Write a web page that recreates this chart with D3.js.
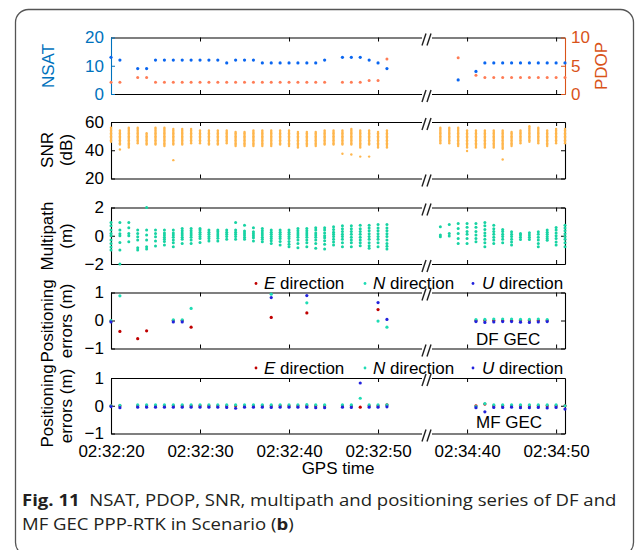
<!DOCTYPE html>
<html>
<head>
<meta charset="utf-8">
<script src="https://cdn.jsdelivr.net/npm/d3@7"></script>
<style>
  body { margin: 0; background: #fff; }
  svg text { font-family: 'Liberation Sans', Arial, sans-serif; }
  .tick text { font-size: 17px; fill: #000; }
  .cap { font-family: 'Open Sans', 'Noto Sans', sans-serif; fill: #231f20; }
</style>
</head>
<body>
<div class="chart"></div>
<script>
// time in seconds after 02:32:00
const xTicks = [20, 30, 40, 50, 160, 170];

const nsatTime = [20, 21, 23, 24, 25, 26, 27, 28, 29, 30, 31, 32, 33, 34, 35, 36, 37, 38, 39, 40, 41, 42, 43, 44, 46, 47, 48, 49, 50, 51,
  159, 161, 162, 163, 164, 165, 166, 167, 168, 169, 170, 171];
const nsat = [13, 12, 9, 9, 12, 12, 12, 12, 12, 12, 12, 12, 11, 12, 12, 12, 11, 11, 11, 11, 11, 11, 11, 12, 13, 13, 13, 12, 11, 9,
  5, 8, 11, 11, 11, 11, 11, 11, 11, 11, 11, 11];
const pdop = [2.1, 2.1, 2.9, 2.9, 2.1, 2.1, 2.1, 2.1, 2.1, 2.1, 2.1, 2.1, 2.1, 2.1, 2.1, 2.1, 2.1, 2.1, 2.1, 2.1, 2.1, 2.1, 2.1, 2.1, 2.1, 2.1, 2.1, 2.4, 2.4, 6.2,
  6.4, 3.3, 2.9, 2.9, 2.9, 2.9, 2.9, 2.9, 2.9, 2.9, 2.9, 2.9];

const snrTime = [20, 21, 22, 23, 24, 25, 26, 27, 28, 29, 30, 31, 32, 33, 34, 35, 36, 37, 38, 39, 40, 41, 42, 43, 44, 45, 46, 47, 48, 49, 50, 51,
  157, 158, 159, 160, 161, 162, 163, 164, 165, 166, 167, 168, 169, 170, 171];
const snr = [
  [56, 55, 54, 53, 52, 51, 50, 49, 48, 47, 46],
  [54, 53, 52, 51, 50, 49, 48, 47, 46, 45, 44, 40.5],
  [56, 55, 54, 53, 52, 51, 50, 49, 48, 47, 46, 45, 44, 43, 42],
  [56, 55, 54, 53, 52, 51, 50, 49, 48, 47, 46, 45],
  [52, 51, 50, 49, 48, 47, 46, 45, 44],
  [56, 55, 54, 53, 52, 51, 50, 49, 48, 47, 46, 45, 44],
  [56, 55, 54, 53, 52, 51, 50, 49, 48, 47, 46, 45, 44, 43],
  [55, 54, 53, 52, 51, 50, 49, 48, 47, 46, 45, 44, 33],
  [55, 54, 53, 52, 51, 50, 49, 48, 47, 46, 45, 44],
  [55, 54, 53, 52, 51, 50, 49, 48, 47, 46, 45],
  [54, 53, 52, 51, 50, 49, 48, 47, 46, 45],
  [54, 53, 52, 51, 50, 49, 48, 47, 46, 45, 44],
  [54, 53, 52, 51, 50, 49, 48, 47, 46, 45, 44],
  [54, 53, 52, 51, 50, 49, 48, 47, 46, 45],
  [53, 52, 51, 50, 49, 48, 47, 46, 45, 44, 43],
  [53, 52, 51, 50, 49, 48, 47, 46, 45, 44, 43],
  [54, 53, 52, 51, 50, 49, 48, 47, 46, 45, 44, 43],
  [54, 53, 52, 51, 50, 49, 48, 47, 46, 45, 44, 43],
  [54, 53, 52, 51, 50, 49, 48, 47, 46, 45, 44, 43],
  [54, 53, 52, 51, 50, 49, 48, 47, 46, 45, 44],
  [54, 53, 52, 51, 50, 49, 48, 47, 46, 45, 44, 43],
  [53, 52, 51, 50, 49, 48, 47, 46, 45, 44, 43, 42],
  [53, 52, 51, 50, 49, 48, 47, 46, 45, 44, 43],
  [53, 52, 51, 50, 49, 48, 47, 46, 45, 44, 43],
  [54, 53, 52, 51, 50, 49, 48, 47, 46, 45, 44],
  [54, 53, 52, 51, 50, 49, 48, 47, 46, 45, 44],
  [54, 53, 52, 51, 50, 49, 48, 47, 46, 45, 44, 37.5],
  [55, 54, 53, 52, 51, 50, 49, 48, 47, 46, 45, 44, 37],
  [54, 53, 52, 51, 50, 49, 48, 47, 46, 45, 44, 43, 42, 35.5],
  [54, 53, 52, 51, 50, 49, 48, 47, 46, 45, 44, 35.5],
  [53, 52, 51, 50, 49, 48, 47, 46, 45, 44, 43, 42],
  [54, 53, 52, 51, 50, 49, 48, 47, 46, 45, 44, 43, 42],
  [56, 55, 54, 53, 52, 51, 50, 49, 48, 47, 46, 45],
  [56, 55, 54, 53, 52, 51, 50, 49, 48, 47, 46, 45],
  [56, 55, 54, 53, 52, 51, 50, 49, 48, 47, 46, 45, 44, 43],
  [54, 53, 52, 51, 50, 49, 48, 47, 46, 45, 44, 43, 42, 39.5],
  [54, 53, 52, 51, 50, 49, 48, 47, 46, 45, 44, 43, 42],
  [54, 53, 52, 51, 50, 49, 48, 47, 46, 45, 44, 43, 42],
  [54, 53, 52, 51, 50, 49, 48, 47, 46, 45, 44, 43, 42],
  [54, 53, 52, 51, 50, 49, 48, 47, 46, 45, 44, 43, 42, 41, 33.5],
  [53, 52, 51, 50, 49, 48, 47, 46, 45, 44, 43],
  [54, 53, 52, 51, 50, 49, 48, 47, 46, 45],
  [57, 56, 55, 54, 53, 52, 51, 50, 49, 48, 47, 46],
  [56, 55, 54, 53, 52, 51, 50, 49, 48, 47, 46, 45],
  [54, 53, 52, 51, 50, 49, 48, 47, 46, 45, 44, 43],
  [55, 54, 53, 52, 51, 50, 49, 48, 47, 46, 45],
  [55, 54, 53, 52, 51, 50, 49, 48, 47, 46, 45]
];

const mpTime = snrTime;
const multipath = [
  [0.94, 0.7, 0.4, 0.16, 0, -0.3, -0.54, -0.8, -1.0],
  [0.94, 0.4, 0.15, 0, -0.47, -1.0, -2.0],
  [0.94, 0.56, 0.16, 0, -0.42],
  [0.4, 0.16, -0.07, -0.3, -0.85, -1.0],
  [2.0, 0.4, 0.05, -0.3, -0.78, -0.94],
  [0.4, 0.16, -0.07, -0.38, -0.73],
  [0.4, 0.2, 0.05, -0.1, -0.25, -0.4, -0.66],
  [0.4, 0.2, 0.05, -0.1, -0.3, -0.5, -0.78],
  [0.52, 0.35, 0.2, 0.05, -0.1, -0.25, -0.54],
  [0.52, 0.35, 0.2, 0.05, -0.1, -0.3, -0.54],
  [0.52, 0.4, 0.25, 0.1, -0.05, -0.2, -0.47],
  [0.4, 0.25, 0.1, -0.05, -0.2, -0.38],
  [0.4, 0.28, 0.12, -0.02, -0.18, -0.38],
  [0.4, 0.25, 0.1, -0.05, -0.24],
  [0.94, 0.4, 0.25, 0.1, -0.05, -0.24],
  [0.75, 0.33, 0.2, 0.05, -0.1, -0.24],
  [0.56, 0.28, 0.15, 0, -0.15, -0.38],
  [0.52, 0.35, 0.2, 0.05, -0.1, -0.25, -0.42],
  [0.4, 0.25, 0.1, -0.05, -0.2, -0.35, -0.54],
  [0.4, 0.25, 0.1, -0.05, -0.2, -0.4, -0.66],
  [0.4, 0.25, 0.1, -0.05, -0.2, -0.4, -0.6, -0.78],
  [0.52, 0.35, 0.2, 0.05, -0.1, -0.3, -0.55, -0.85],
  [0.52, 0.35, 0.2, 0.05, -0.1, -0.3, -0.5, -0.78],
  [0.56, 0.4, 0.2, 0.05, -0.1, -0.3, -0.55, -0.89],
  [0.56, 0.4, 0.2, 0, -0.15, -0.35, -0.6, -0.94],
  [0.64, 0.45, 0.25, 0.1, -0.05, -0.25, -0.45, -0.66],
  [0.7, 0.5, 0.3, 0.1, -0.05, -0.25, -0.5, -0.78],
  [0.7, 0.5, 0.3, 0.1, -0.1, -0.3, -0.5, -0.78],
  [0.75, 0.5, 0.3, 0.1, -0.1, -0.3, -0.5, -0.7],
  [0.75, 0.55, 0.35, 0.15, -0.05, -0.25, -0.5, -0.7, -0.89],
  [0.8, 0.55, 0.35, 0.15, -0.05, -0.25, -0.5, -0.78],
  [0.8, 0.55, 0.35, 0.15, -0.05, -0.3, -0.55, -0.75, -0.94],
  [0.64, 0.05, -0.07],
  [0.8, 0.16, -0.02],
  [0.87, 0.52, 0.16, -0.19, -0.54],
  [0.87, 0.6, 0.3, 0.1, -0.2, -0.54],
  [0.87, 0.6, 0.3, 0.05, -0.2, -0.42],
  [0.94, 0.7, 0.45, 0.2, 0, -0.25, -0.5, -0.78],
  [0.75, 0.5, 0.3, 0.1, -0.1, -0.3, -0.54],
  [0.45, 0.3, 0.1, -0.05, -0.25, -0.49],
  [0.28, 0.1, -0.05, -0.25, -0.45, -0.66],
  [0.16, 0.05, -0.1, -0.26],
  [0.21, 0.05, -0.1, -0.26],
  [0.28, 0.1, -0.1, -0.3, -0.55, -0.78],
  [0.4, 0.25, 0.1, -0.05, -0.2, -0.31],
  [0.59, 0.4, 0.2, 0, -0.2, -0.45, -0.66],
  [0.75, 0.55, 0.35, 0.15, -0.05, -0.25, -0.5, -0.78]
];

// DF GEC positioning errors (m)
const dfTime = [20, 21, 23, 24, 27, 28, 29, 38, 42, 50, 51, 161, 162, 163, 164, 165, 166, 167, 168, 169];
const dfE = [-0.02, -0.39, -0.65, -0.37, 0, 0, -0.24, 0.11, 0.27, 0.39, null, 0, 0, 0, 0, 0, 0, 0, 0, 0];
const dfN = [0, 0.88, null, null, 0.02, 0.02, 0.43, 0.94, 0.63, -0.02, -0.24, 0.03, 0.04, 0.05, 0.05, 0.05, 0.04, 0.04, 0.05, 0.03];
const dfU = [-0.05, null, null, null, -0.05, -0.05, null, 0.82, 0.89, 0.64, 0.04, -0.04, -0.07, -0.05, -0.04, -0.04, -0.06, -0.07, -0.05, -0.04];

// MF GEC positioning errors (m)
const mfTime = [20, 21, 23, 24, 25, 26, 27, 28, 29, 30, 31, 32, 33, 34, 35, 36, 37, 38, 39, 40, 41, 42, 43, 44, 46, 47, 48, 49, 50, 51,
  161, 162, 163, 164, 165, 166, 167, 168, 169, 170, 171];
const mfE = [0, 0, 0, 0, 0, 0, 0, 0, 0, 0, 0, 0, 0, 0, 0, 0, 0, 0, 0, 0, 0, 0, 0, 0, 0, 0, -0.05, 0, 0, 0.03,
  0, 0.06, 0, 0, 0, 0, 0, 0, 0, 0, 0];
const mfN = [0, 0.01, 0.03, 0.03, 0.03, 0.03, 0.03, 0.03, 0.03, 0.03, 0.03, 0.03, 0.03, 0.03, 0.03, 0.03, 0.03, 0.03, 0.03, 0.03, 0.03, 0.04, 0.03, 0.03, 0.03, 0.03, 0.27, 0.03, 0.03, 0.03,
  -0.03, 0.08, 0.03, 0.03, 0.03, 0.03, 0.03, 0.03, 0.03, 0.03, 0];
const mfU = [-0.03, -0.07, -0.05, -0.05, -0.05, -0.05, -0.05, -0.05, -0.05, -0.05, -0.05, -0.05, -0.06, -0.09, -0.05, -0.05, -0.05, -0.06, -0.05, -0.05, -0.05, -0.05, -0.07, -0.07, -0.05, -0.06, 0.82, -0.05, -0.05, -0.04,
  -0.07, -0.22, -0.06, -0.06, -0.05, -0.07, -0.07, -0.06, -0.08, -0.06, -0.12];

const blueAxis = '#0072bd', orangeAxis = '#d95319';
const colNsat = '#0a66f0', colPdop = '#ff7c55', colSnr = '#ffb64d', colMp = '#17d3a3';
const colE = '#c00000', colN = '#1fdcb4', colU = '#2222dd';

const svg = d3.select('.chart').append('svg').attr('width', 635).attr('height', 550);

svg.append('rect').attr('x', 15.5).attr('y', 9.5).attr('width', 618).attr('height', 546)
  .attr('rx', 13).attr('fill', 'none').attr('stroke', '#555').attr('stroke-width', 1.3);

// broken time axis: 02:32:20-02:32:55.5 | 02:34:35.5-02:34:51
const x = d3.scaleLinear().domain([20, 55.5, 155.5, 171]).range([111, 427, 427, 565]);
const breakX = 427;
const intFmt = d3.format('d');

function fmtTime(s) {
  const m = 32 + Math.floor(s / 60);
  const sec = s % 60;
  return '02:' + String(m).padStart(2, '0') + ':' + String(sec).padStart(2, '0');
}

function panel(top, bottom, domain, ticks, opts) {
  opts = opts || {};
  const y = d3.scaleLinear().domain(domain).range([bottom, top]);
  const g = svg.append('g');

  g.append('g').attr('transform', `translate(0,${bottom})`)
    .call(d3.axisBottom(x).tickValues(xTicks).tickSizeInner(-4).tickSizeOuter(0).tickPadding(11)
      .tickFormat(opts.xLabels ? fmtTime : ''));
  g.append('g').attr('transform', `translate(0,${top})`)
    .call(d3.axisTop(x).tickValues(xTicks).tickSizeInner(-4).tickSizeOuter(0).tickFormat(''));

  const left = g.append('g').attr('transform', 'translate(111,0)')
    .call(d3.axisLeft(y).tickValues(ticks).tickSizeInner(-4).tickSizeOuter(0).tickPadding(7).tickFormat(intFmt));
  if (opts.leftColor) {
    left.selectAll('path, line').attr('stroke', opts.leftColor);
    left.selectAll('text').style('fill', opts.leftColor);
  }

  const yr = opts.rightDomain ? d3.scaleLinear().domain(opts.rightDomain).range([bottom, top]) : y;
  const right = g.append('g').attr('transform', 'translate(565,0)')
    .call(d3.axisRight(yr).tickValues(opts.rightTicks || ticks).tickSizeInner(-4).tickSizeOuter(0).tickPadding(6)
      .tickFormat(opts.rightDomain ? intFmt : ''));
  if (opts.rightColor) {
    right.selectAll('path, line').attr('stroke', opts.rightColor);
    right.selectAll('text').style('fill', opts.rightColor);
  }
  g.selectAll('.domain').attr('stroke-width', 1.1);

  // axis break marks
  [top, bottom].forEach(function (yy) {
    g.append('rect').attr('x', breakX - 5).attr('y', yy - 3).attr('width', 10).attr('height', 6).attr('fill', '#fff');
    [-3, 2].forEach(function (dx) {
      g.append('line')
        .attr('x1', breakX + dx - 2).attr('y1', yy + 8)
        .attr('x2', breakX + dx + 2).attr('y2', yy - 4)
        .attr('stroke', '#222').attr('stroke-width', 1.4);
    });
  });

  return { g: g, y: y, yr: yr };
}

function yLabel(lines, cx, cy, color) {
  const t = svg.append('text').attr('transform', `translate(${cx},${cy}) rotate(-90)`)
    .attr('text-anchor', 'middle').attr('font-size', 17).attr('fill', color || '#000');
  lines.forEach(function (s, i) {
    t.append('tspan').attr('x', 0).attr('y', i * 19).text(s);
  });
}

function dots(g, xs, ys, r, color) {
  g.selectAll(null)
    .data(xs.map(function (d, i) { return [d, ys[i]]; }).filter(function (d) { return d[1] != null; }))
    .enter()
    .append('circle')
    .attr('cx', function (d) { return x(d[0]); })
    .attr('cy', function (d) { return d[1]; })
    .attr('r', r)
    .attr('fill', color);
}

// NSAT / PDOP
const p1 = panel(37.5, 94, [0, 20], [0, 10, 20], {
  leftColor: blueAxis, rightColor: orangeAxis, rightDomain: [0, 10], rightTicks: [0, 5, 10]
});
dots(p1.g, nsatTime, pdop.map(function (v) { return p1.yr(v); }), 1.5, colPdop);
dots(p1.g, nsatTime, nsat.map(function (v) { return p1.y(v); }), 1.6, colNsat);
yLabel(['NSAT'], 54, 66, blueAxis);
yLabel(['PDOP'], 607, 66, orangeAxis);

// SNR
const p2 = panel(122, 178.5, [20, 60], [20, 40, 60]);
const snrPts = [];
snrTime.forEach(function (t, i) { snr[i].forEach(function (v) { snrPts.push([t, v]); }); });
p2.g.selectAll(null).data(snrPts).enter().append('circle')
  .attr('cx', function (d) { return x(d[0]); })
  .attr('cy', function (d) { return p2.y(d[1]); })
  .attr('r', 1.2).attr('fill', colSnr);
yLabel(['SNR', '(dB)'], 53, 150);

// Multipath
const p3 = panel(207.5, 264, [-2, 2], [-2, 0, 2]);
const mpPts = [];
mpTime.forEach(function (t, i) { multipath[i].forEach(function (v) { mpPts.push([t, v]); }); });
p3.g.selectAll(null).data(mpPts).enter().append('circle')
  .attr('cx', function (d) { return x(d[0]); })
  .attr('cy', function (d) { return p3.y(d[1]); })
  .attr('r', 1.5).attr('fill', colMp);
yLabel(['Multipath', '(m)'], 53, 236);

// positioning errors
function legend(yBase) {
  const items = [
    { dot: 256, tx: 264, s: 'E', c: colE },
    { dot: 365, tx: 373, s: 'N', c: colN },
    { dot: 473, tx: 482, s: 'U', c: colU }
  ];
  items.forEach(function (it) {
    svg.append('circle').attr('cx', it.dot).attr('cy', yBase - 5.5).attr('r', 1.4).attr('fill', it.c);
    const t = svg.append('text').attr('x', it.tx).attr('y', yBase).attr('font-size', 17).attr('fill', '#000');
    t.append('tspan').attr('font-style', 'italic').text(it.s);
    t.append('tspan').text(' direction');
  });
}

const p4 = panel(292.5, 348.5, [-1, 1], [-1, 0, 1]);
dots(p4.g, dfTime, dfE.map(function (v) { return v == null ? null : p4.y(v); }), 1.6, colE);
dots(p4.g, dfTime, dfN.map(function (v) { return v == null ? null : p4.y(v); }), 1.6, colN);
dots(p4.g, dfTime, dfU.map(function (v) { return v == null ? null : p4.y(v); }), 1.6, colU);
legend(289);
svg.append('text').attr('x', 476).attr('y', 345).attr('font-size', 17).text('DF GEC');
yLabel(['Positioning', 'errors (m)'], 53, 321);

const p5 = panel(378, 433.5, [-1, 1], [-1, 0, 1], { xLabels: true });
dots(p5.g, mfTime, mfE.map(function (v) { return p5.y(v); }), 1.6, colE);
dots(p5.g, mfTime, mfN.map(function (v) { return p5.y(v); }), 1.6, colN);
dots(p5.g, mfTime, mfU.map(function (v) { return p5.y(v); }), 1.6, colU);
legend(373.5);
svg.append('text').attr('x', 476).attr('y', 428).attr('font-size', 17).text('MF GEC');
yLabel(['Positioning', 'errors (m)'], 53, 406);

svg.append('text').attr('x', 338).attr('y', 474).attr('text-anchor', 'middle').attr('font-size', 17).text('GPS time');

// caption, squeezed horizontally to the reference's narrow face
function caption(parts, y) {
  const t = svg.append('text').attr('class', 'cap').attr('y', y).attr('font-size', 16.5);
  parts.forEach(function (p) {
    t.append('tspan').attr('font-weight', p[1] ? 'bold' : null).text(p[0]);
  });
  return t;
}
const c1 = caption([['Fig. 11', true], ['\u00a0 NSAT, PDOP, SNR, multipath and positioning series of DF and', false]], 506);
const sx = 595 / c1.node().getComputedTextLength();
c1.attr('transform', `translate(22,0) scale(${sx},1)`);
const c2 = caption([['MF GEC PPP-RTK in Scenario (', false], ['b', true], [')', false]], 530);
c2.attr('transform', `translate(22,0) scale(${sx},1)`);
</script>
</body>
</html>
